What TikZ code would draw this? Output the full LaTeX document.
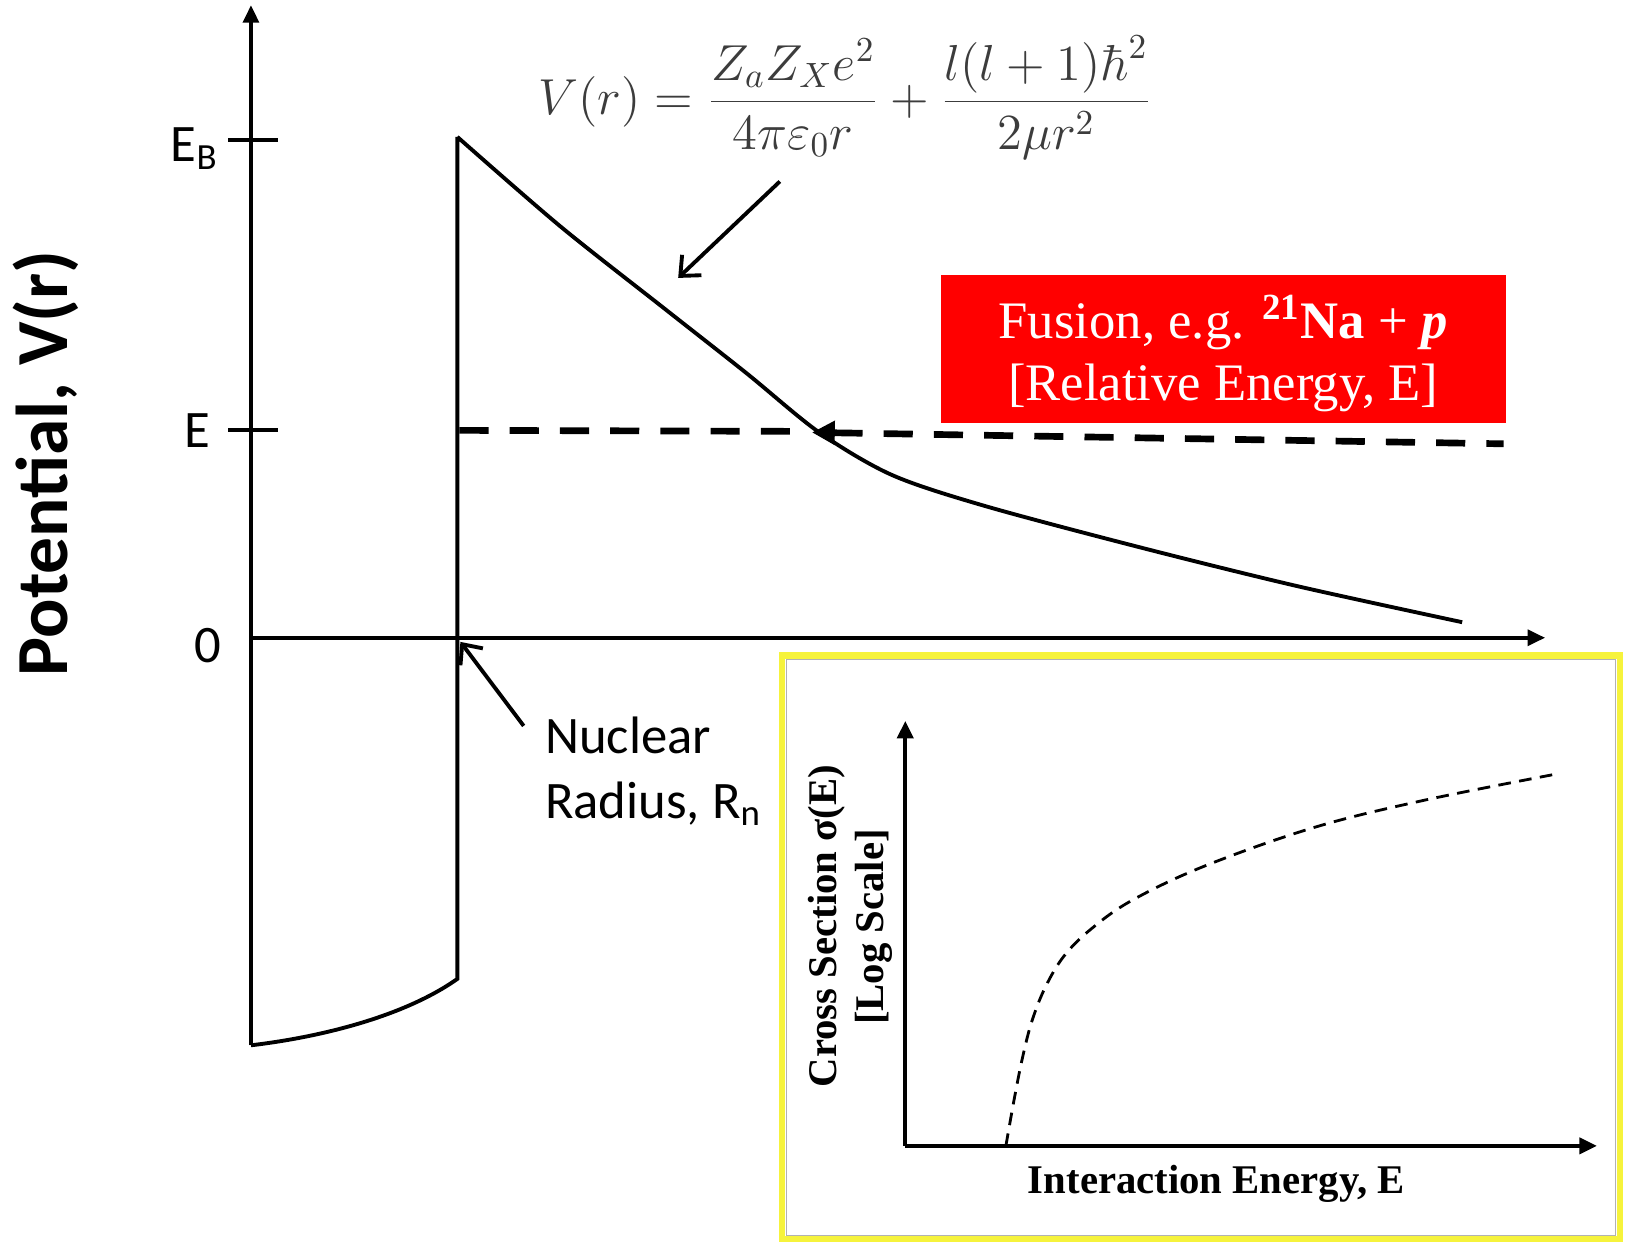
\documentclass[tikz,border=0pt]{standalone}
\usepackage[no-math]{fontspec}
\setmainfont{Liberation Serif}
\newfontfamily\calib{Carlito}
\usetikzlibrary{arrows.meta}
\definecolor{boxred}{RGB}{255,0,0}
\definecolor{insetyellow}{RGB}{246,243,60}
\definecolor{formulagray}{RGB}{60,60,60}
\begin{document}
\begin{tikzpicture}[x=0.01037cm,y=-0.01037cm,
  axisline/.style={line width=1.1pt,-{Triangle[length=5pt,width=4.5pt]}},
  potline/.style={line width=1.1pt,line join=miter},
  tickmark/.style={line width=1.1pt},
  levelline/.style={line width=1.9pt,dash pattern=on 8.3pt off 6pt},
  calout/.style={line width=1.1pt,-{Straight Barb[length=4.5pt,width=8pt]}},
  lbl/.style={font=\calib\fontsize{15pt}{18.3pt}\selectfont,inner sep=0pt},
  ylbl/.style={font=\calib\bfseries\fontsize{20.9pt}{24pt}\selectfont,inner sep=0pt,rotate=90},
  formula/.style={font=\fontsize{14.2pt}{17pt}\selectfont,text=formulagray,inner sep=0pt},
  redbox/.style={fill=boxred,text=white,inner sep=0pt,minimum width=545*0.01037cm,minimum height=143*0.01037cm,align=center,font=\fontsize{15pt}{17.7pt}\selectfont},
  insetbox/.style={draw=insetyellow,line width=1.8pt,fill=white},
  insetlbl/.style={font=\bfseries\fontsize{11.6pt}{13pt}\selectfont,inner sep=0pt},
  insetaxis/.style={line width=1.2pt,-{Triangle[length=5pt,width=4.5pt]}},
  insetcurve/.style={line width=0.8pt,dash pattern=on 3.6pt off 2.4pt}
]
\fill[white] (0,0) rectangle (1568,1198);
\useasboundingbox (0,0) rectangle (1568,1198);

% main axes
\coordinate (O) at (242,615);
\coordinate (ytop) at (242,5);
\coordinate (ybot) at (242,1008);
\coordinate (xend) at (1490,615);
\draw[axisline] (ybot) -- (ytop);
\draw[axisline] (O) -- (xend);

% ticks and labels
\draw[tickmark] (220,135) -- (268,135);
\draw[tickmark] (220,415) -- (268,415);
\node[lbl,anchor=base west] (EB) at (164,156) {E\textsubscript{B}};
\node[lbl,anchor=base west] (El) at (177,432) {E};
\node[lbl] (zero) at (200,623) {0};
\node[ylbl] (ylab) at (44,447) {Potential, V(r)};

% potential: well + barrier + Coulomb tail
\coordinate (wellL) at (242,1008);
\coordinate (wellR) at (441,944);
\coordinate (peak) at (441,132);
\draw[potline] (wellL) .. controls (310,1000) and (390,980) .. (wellR) -- (peak)
  plot[smooth,tension=0.5] coordinates {(441,132) (540,218) (640,297) (720,360) (790,417) (860,458) (950,488) (1100,528) (1250,565) (1410,600)};

% energy level
\coordinate (Eleft) at (443,415);
\coordinate (Ecross) at (772,416);
\coordinate (Etip) at (783,417);
\coordinate (Eright) at (1450,428);
\draw[levelline] (Eleft) -- (Ecross);
\draw[levelline,{Triangle[length=6.5pt,width=6.5pt]}-] (Etip) -- (Eright);

% formula and its arrow
\node[formula] (Vr) at (815,94) {$\displaystyle V(r) = \frac{Z_aZ_Xe^2}{4\pi\varepsilon_0 r} + \frac{l(l+1)\hbar^2}{2\mu r^2}$};
\coordinate (fa1) at (752,175);
\coordinate (fa2) at (654,268);
\draw[calout] (fa1) -- (fa2);

% nuclear radius
\node[lbl,anchor=base west,align=left] (nuc) at (525,789) {Nuclear\\Radius, R\textsubscript{n}};
\coordinate (na1) at (505,700);
\coordinate (na2) at (444,619);
\draw[calout] (na1) -- (na2);

% red box
\node[redbox] (fusion) at (1179.5,336.5) {\raisebox{-1.3pt}[\height][\depth]{\parbox{155pt}{\centering Fusion, e.g. \textsuperscript{\textbf{21}}\textbf{Na} + \textbf{\textit{p}}\\{}[Relative Energy, E]}}};

% inset
\draw[insetbox] (754,632) rectangle (1562,1195);
\draw[gray!60,line width=0.3pt] (758,636) rectangle (1558,1191);
\coordinate (iO) at (873,1105);
\coordinate (iy) at (873,695);
\coordinate (ix) at (1540,1105);
\draw[insetaxis] (iO) -- (iy);
\draw[insetaxis] (iO) -- (ix);
\draw[insetcurve] plot[smooth,tension=0.6] coordinates {(970,1105) (978,1060) (986,1020) (995,985) (1008,952) (1026,922) (1052,896) (1092,868) (1162,835) (1267,798) (1372,772) (1503,746)};
\node[insetlbl,rotate=90] (cs) at (797,893) {Cross Section σ(E)};
\node[insetlbl,rotate=90] (ls) at (843,894) {[Log Scale]};
\node[insetlbl] (ie) at (1173,1142) {Interaction Energy, E};
\end{tikzpicture}
\end{document}
